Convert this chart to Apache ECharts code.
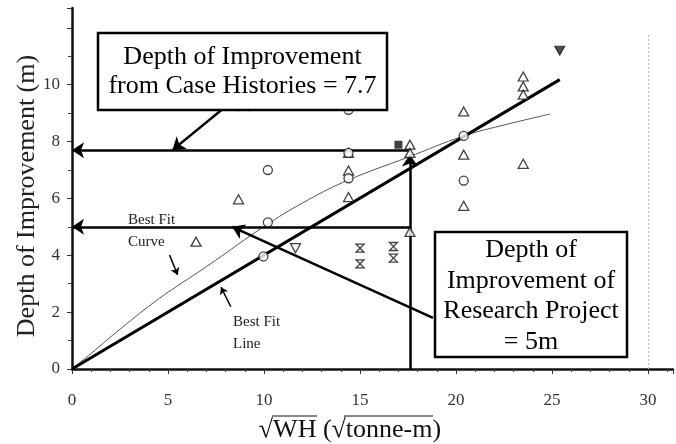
<!DOCTYPE html>
<html><head><meta charset="utf-8">
<script src="https://cdn.jsdelivr.net/npm/echarts@6/dist/echarts.min.js"></script>
<style>html,body{margin:0;padding:0;background:#fff}#c{width:676px;height:444px}</style>
</head><body><div id="c"></div>
<script>
// ---- data ----
const xTickLabels = ['0', '5', '10', '15', '20', '25', '30'];
const yTickLabels = ['0', '2', '4', '6', '8', '10'];

const triangleX = [6.46, 8.67, 14.4, 14.4, 14.4, 17.6, 17.6, 17.6, 20.4, 20.4, 20.4, 23.5, 23.5, 23.5, 23.5];
const triangleY = [4.48, 5.97, 7.6, 6.98, 6.05, 7.89, 7.6, 4.82, 9.06, 7.54, 5.74, 10.29, 9.94, 9.65, 7.22];

const circleX = [10.2, 10.2, 9.97, 14.4, 14.4, 14.4, 20.4, 20.4, 8.7, 9.2];
const circleY = [7.0, 5.16, 3.96, 9.12, 7.6, 6.71, 8.2, 6.63, 9.25, 9.25];

const invTriangleX = [11.64];
const invTriangleY = [4.25];

const hourglassX = [15.0, 15.0, 16.74, 16.74];
const hourglassY = [4.25, 3.7, 4.31, 3.9];

const squareX = [17.0];
const squareY = [7.89];

const filledInvTriangleX = [25.4];
const filledInvTriangleY = [11.2];

const fitLineX = [0, 25.4];
const fitLineY = [0, 10.18];

const fitCurveX = [0, 1, 2.5, 4.56, 7, 10.26, 12.3, 14.4, 17.5, 20.4, 22.6, 24.9];
const fitCurveY = [0, 0.55, 1.4, 2.49, 3.6, 5.13, 5.95, 6.65, 7.45, 8.2, 8.6, 8.97];

const caseHistoryDepth = 7.7;
const projectDepth = 5;
const projectEnergy = 17.6;

// ---- helpers ----
const zip = (xs, ys) => xs.map((x, i) => [x, ys[i]]);
const serif = 'Liberation Serif, Times New Roman, serif';

const chart = echarts.init(document.getElementById('c'), null, { renderer: 'canvas' });

const openStyle = { color: '#fff', borderColor: '#111', borderWidth: 1.3 };

function arrowLine(from, to, width, head) {
  return [
    { coord: from, symbol: 'none', lineStyle: { color: '#000', width: width, type: 'solid' } },
    { coord: to, symbol: 'arrow', symbolSize: head }
  ];
}

const option = {
  animation: false,
  backgroundColor: '#fff',
  grid: { left: 72, right: 0, top: 8, bottom: 75, containLabel: false },
  xAxis: {
    type: 'value', min: 0, max: 31.3, interval: 5,
    axisLine: { show: true, lineStyle: { color: '#111', width: 2.5 } },
    axisTick: { show: true, length: 5, lineStyle: { color: '#333', width: 1 } },
    minorTick: { show: true, splitNumber: 5, length: 3, lineStyle: { color: '#444' } },
    splitLine: { show: false },
    axisLabel: {
      color: '#333', fontFamily: serif, fontSize: 17, margin: 23,
      formatter: v => { const s = String(v); return xTickLabels.includes(s) ? s : ''; }
    }
  },
  yAxis: {
    type: 'value', min: 0, max: 12.7, interval: 2,
    axisLine: { show: true, lineStyle: { color: '#111', width: 2.5 } },
    axisTick: { show: true, length: 5, lineStyle: { color: '#333', width: 1 } },
    minorTick: { show: true, splitNumber: 2, length: 4, lineStyle: { color: '#444' } },
    splitLine: { show: false },
    axisLabel: {
      color: '#333', fontFamily: serif, fontSize: 17, margin: 12,
      formatter: v => { const s = String(v); return yTickLabels.includes(s) ? s : ''; }
    }
  },
  series: [
    {
      name: 'Best Fit Curve', type: 'line', data: zip(fitCurveX, fitCurveY),
      smooth: 0.4, showSymbol: false, silent: true, z: 3,
      lineStyle: { color: '#555', width: 1 }
    },
    {
      name: 'Best Fit Line', type: 'line', data: zip(fitLineX, fitLineY),
      showSymbol: false, silent: true, z: 4,
      lineStyle: { color: '#000', width: 3 },
      markLine: {
        silent: true, animation: false, label: { show: false },
        symbol: ['none', 'arrow'], symbolSize: 12,
        lineStyle: { color: '#000', width: 2.5, type: 'solid' },
        itemStyle: { color: '#000' },
        data: [
          arrowLine([projectEnergy, caseHistoryDepth], [0, caseHistoryDepth], 2.5, 12),
          arrowLine([projectEnergy, projectDepth], [0, projectDepth], 2.5, 12),
          arrowLine([projectEnergy, 0], [projectEnergy, 7.55], 2.5, 12),
          arrowLine([7.8, 9.12], [5.23, 7.7], 2.5, 12),
          arrowLine([18.8, 1.8], [8.34, 5.0], 2.5, 12),
          arrowLine([5.08, 4.01], [5.5, 3.31], 1.5, 7),
          arrowLine([8.27, 2.19], [7.76, 2.88], 1.5, 7),
          [{ coord: [30, 0], symbol: 'none', lineStyle: { color: '#bbb', width: 1, type: [2, 2] } },
           { coord: [30, 11.75], symbol: 'none' }]
        ]
      }
    },
    {
      name: 'triangle', type: 'scatter', data: zip(triangleX, triangleY),
      symbol: 'triangle', symbolSize: [10, 9], itemStyle: openStyle, z: 5
    },
    {
      name: 'circle', type: 'scatter', data: zip(circleX, circleY),
      symbol: 'circle', symbolSize: 9, itemStyle: openStyle, z: 5
    },
    {
      name: 'invTriangle', type: 'scatter', data: zip(invTriangleX, invTriangleY),
      symbol: 'triangle', symbolRotate: 180, symbolSize: [10, 9], itemStyle: openStyle, z: 5
    },
    {
      name: 'hourglass', type: 'scatter', data: zip(hourglassX, hourglassY),
      symbol: 'path://M0,0 L10,0 L0,10 L10,10 Z', symbolSize: [8, 8],
      itemStyle: openStyle, z: 5
    },
    {
      name: 'square', type: 'scatter', data: zip(squareX, squareY),
      symbol: 'rect', symbolSize: 8, itemStyle: { color: '#111' }, z: 5
    },
    {
      name: 'filledInvTriangle', type: 'scatter', data: zip(filledInvTriangleX, filledInvTriangleY),
      symbol: 'triangle', symbolRotate: 180, symbolSize: [10, 9],
      itemStyle: { color: '#222', borderColor: '#000', borderWidth: 1 }, z: 5
    }
  ],
  graphic: [
    {
      type: 'text', x: 27, y: 196, rotation: Math.PI / 2, z: 50,
      style: { text: 'Depth of Improvement (m)', font: '26px ' + serif, fill: '#222',
               textAlign: 'center', textVerticalAlign: 'middle' }
    },
    {
      type: 'text', x: 350, y: 430, z: 50,
      style: { text: '\u221AWH (\u221Atonne-m)', font: '26px ' + serif, fill: '#111',
               textAlign: 'center', textVerticalAlign: 'middle' }
    },
    { type: 'line', z: 50, shape: { x1: 272, y1: 416, x2: 317, y2: 416 }, style: { stroke: '#111', lineWidth: 1.2 } },
    { type: 'line', z: 50, shape: { x1: 344, y1: 416, x2: 433, y2: 416 }, style: { stroke: '#111', lineWidth: 1.2 } },
    {
      type: 'rect', z: 100, shape: { x: 98, y: 33, width: 289, height: 77 },
      style: { fill: '#fff', stroke: '#000', lineWidth: 2.5 }
    },
    {
      type: 'text', z: 101, x: 242.5, y: 71.5,
      style: { text: 'Depth of Improvement\nfrom Case Histories = 7.7', font: '26px ' + serif,
               lineHeight: 28.5, fill: '#000', textAlign: 'center', textVerticalAlign: 'middle' }
    },
    {
      type: 'rect', z: 100, shape: { x: 435, y: 232, width: 192, height: 125 },
      style: { fill: '#fff', stroke: '#000', lineWidth: 2.5 }
    },
    {
      type: 'text', z: 101, x: 531, y: 296,
      style: { text: 'Depth of\nImprovement of\nResearch Project\n= 5m', font: '26px ' + serif,
               lineHeight: 30.5, fill: '#000', textAlign: 'center', textVerticalAlign: 'middle' }
    },
    {
      type: 'text', z: 60, x: 128, y: 231,
      style: { text: 'Best Fit\nCurve', font: '15px ' + serif, lineHeight: 22, fill: '#222',
               textAlign: 'left', textVerticalAlign: 'middle' }
    },
    {
      type: 'text', z: 60, x: 233, y: 333,
      style: { text: 'Best Fit\nLine', font: '15px ' + serif, lineHeight: 22, fill: '#222',
               textAlign: 'left', textVerticalAlign: 'middle' }
    }
  ]
};
chart.setOption(option);
</script>
</body></html>
